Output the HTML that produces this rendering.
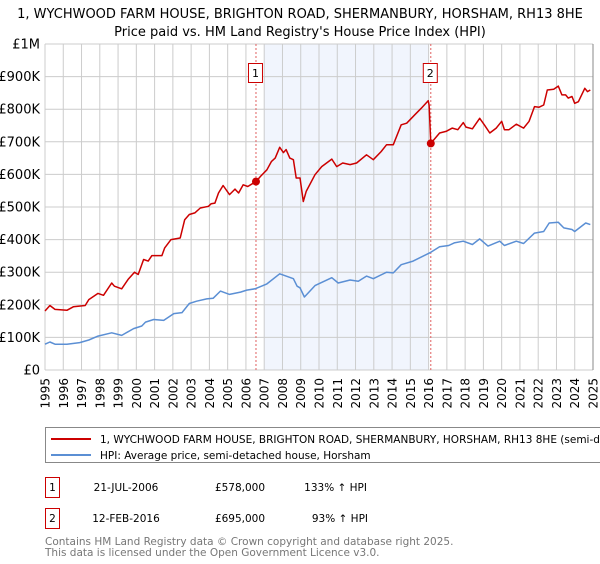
<!DOCTYPE html>
<html><head><meta charset="utf-8"><style>
body{margin:0;width:600px;height:560px;background:#fff;overflow:hidden;font-family:"DejaVu Sans","Liberation Sans",sans-serif}
svg text{font-family:"DejaVu Sans","Liberation Sans",sans-serif}
</style></head><body>
<svg id="chart" width="600" height="560" xmlns="http://www.w3.org/2000/svg">
<text x="300" y="18" text-anchor="middle" font-size="13">1, WYCHWOOD FARM HOUSE, BRIGHTON ROAD, SHERMANBURY, HORSHAM, RH13 8HE</text>
<text x="300" y="36" text-anchor="middle" font-size="13">Price paid vs. HM Land Registry's House Price Index (HPI)</text>
<g id="plot"></g>
<g>
<rect x="45.5" y="427.5" width="570" height="35" fill="#fff" stroke="#888"/>
<line x1="51" y1="439" x2="91" y2="439" stroke="#cc0000" stroke-width="2"/>
<text x="100" y="443" font-size="10.5">1, WYCHWOOD FARM HOUSE, BRIGHTON ROAD, SHERMANBURY, HORSHAM, RH13 8HE (semi-detached house)</text>
<line x1="51" y1="455" x2="91" y2="455" stroke="#5b8fd4" stroke-width="2"/>
<text x="100" y="459" font-size="10.5">HPI: Average price, semi-detached house, Horsham</text>
</g>
<g font-size="10.5">
<rect x="45.5" y="477.5" width="14" height="20" fill="#fff" stroke="#cc0000"/>
<text x="52.5" y="491" text-anchor="middle">1</text>
<text x="126" y="491" text-anchor="middle">21-JUL-2006</text>
<text x="240" y="491" text-anchor="middle">£578,000</text>
<text x="367" y="491" text-anchor="end">133% ↑ HPI</text>
</g>
<g font-size="10.5">
<rect x="45.5" y="508.5" width="14" height="20" fill="#fff" stroke="#cc0000"/>
<text x="52.5" y="522" text-anchor="middle">2</text>
<text x="126" y="522" text-anchor="middle">12-FEB-2016</text>
<text x="240" y="522" text-anchor="middle">£695,000</text>
<text x="368" y="522" text-anchor="end">93% ↑ HPI</text>
</g>
<text x="45" y="545" font-size="10.5" fill="#777">Contains HM Land Registry data © Crown copyright and database right 2025.</text>
<text x="45" y="556" font-size="10.5" fill="#777">This data is licensed under the Open Government Licence v3.0.</text>
</svg>
<script>
const years=[1995,1996,1997,1998,1999,2000,2001,2002,2003,2004,2005,2006,2007,2008,2009,2010,2011,2012,2013,2014,2015,2016,2017,2018,2019,2020,2021,2022,2023,2024,2025];
const yTicks=[0,100000,200000,300000,400000,500000,600000,700000,800000,900000,1000000];
const yTickLabels=["£0","£100K","£200K","£300K","£400K","£500K","£600K","£700K","£800K","£900K","£1M"];
const redT=[1995.0,1995.27,1995.55,1996.2,1996.55,1997.2,1997.4,1997.9,1998.2,1998.65,1998.8,1999.2,1999.55,1999.9,2000.1,2000.4,2000.65,2000.85,2001.4,2001.55,2001.9,2002.4,2002.65,2002.9,2003.2,2003.5,2003.95,2004.1,2004.3,2004.5,2004.75,2005.1,2005.4,2005.6,2005.85,2006.1,2006.4,2006.55,2006.8,2007.15,2007.4,2007.6,2007.85,2008.05,2008.2,2008.4,2008.6,2008.75,2008.96,2009.14,2009.3,2009.78,2010.15,2010.7,2010.97,2011.3,2011.7,2012.06,2012.6,2012.97,2013.4,2013.7,2014.07,2014.5,2014.8,2015.25,2015.6,2015.98,2016.03,2016.12,2016.6,2016.95,2017.3,2017.6,2017.9,2018.05,2018.4,2018.8,2019.05,2019.35,2019.7,2020.0,2020.15,2020.4,2020.8,2021.2,2021.5,2021.8,2022.05,2022.3,2022.5,2022.85,2023.1,2023.3,2023.5,2023.65,2023.85,2024.0,2024.2,2024.55,2024.7,2024.85];
const redV=[181,198,186,183,194,198,216,235,229,267,257,249,278,300,293,339,334,351,351,374,400,405,461,477,482,497,502,510,512,543,566,538,555,543,568,563,573,578,594,614,640,650,683,667,676,650,645,589,589,517,548,599,624,647,624,635,630,635,660,645,670,691,691,752,757,783,803,826,813,695,727,732,742,737,759,745,740,772,752,727,742,763,737,737,754,742,763,808,806,813,859,861,871,844,844,834,839,818,823,864,854,859];
const blueT=[1995,1995.27,1995.55,1996.2,1996.9,1997.4,1997.9,1998.65,1999.2,1999.85,2000.3,2000.5,2000.95,2001.5,2002.05,2002.5,2002.9,2003.3,2003.85,2004.2,2004.6,2005.1,2005.7,2006.05,2006.5,2007.15,2007.85,2008.2,2008.6,2008.8,2008.96,2009.2,2009.78,2010.7,2011.05,2011.7,2012.15,2012.6,2012.97,2013.7,2014.07,2014.5,2015.15,2016.12,2016.6,2017.1,2017.4,2017.9,2018.4,2018.8,2019.25,2019.9,2020.15,2020.8,2021.2,2021.8,2022.3,2022.6,2023.1,2023.4,2023.85,2024.0,2024.6,2024.85];
const blueV=[79,86,79,79,84,92,104,114,106,127,135,147,155,152,173,176,204,211,218,220,242,232,239,245,249,264,295,288,280,257,252,224,259,283,267,276,272,288,280,300,298,323,334,361,378,382,390,395,385,402,380,395,382,395,388,420,425,451,453,436,431,425,451,446];
const saleT=[2006.55,2016.12];
const saleV=[578,695];
const saleLabels=["1","2"];

const X0=45,X1=593,Y0=370,Y1=44;
const xs=t=>X0+(t-1995)/30*(X1-X0);
const ys=v=>Y0-v/1000000*(Y0-Y1);
const NS="http://www.w3.org/2000/svg";
const plot=document.getElementById('plot');
function mk(tag,attrs,parent){const e=document.createElementNS(NS,tag);for(const k in attrs)e.setAttribute(k,attrs[k]);(parent||plot).appendChild(e);return e;}

const shade=mk('rect',{x:xs(2007),y:Y1,width:xs(2016)-xs(2007),height:Y0-Y1,fill:'#eef3fd',opacity:0.8});


years.forEach(y=>{
  const l=mk('line',{x1:xs(y),x2:xs(y),y1:Y1,y2:Y0,stroke:'#cccccc','stroke-width':1});
  
  
  const t=mk('text',{x:0,y:0,'font-size':12,'text-anchor':'end',transform:`translate(${xs(y)+4.5},${Y0+8}) rotate(-90)`});
  t.textContent=y;
  
  
});
yTicks.forEach((v,i)=>{
  const l=mk('line',{x1:X0,x2:X1,y1:ys(v),y2:ys(v),stroke:'#cccccc','stroke-width':1});
  
  
  const t=mk('text',{x:40,y:ys(v)+4.5,'font-size':13,'text-anchor':'end'});
  t.textContent=yTickLabels[i];
  
  
});
const rb=mk('line',{x1:X1,x2:X1,y1:Y1,y2:Y0,stroke:'#888','stroke-width':1});


saleT.forEach((t,i)=>{
  const l=mk('line',{x1:xs(t),x2:xs(t),y1:Y1,y2:Y0,stroke:'#e06060','stroke-width':1,'stroke-dasharray':'2,2'});
  
  
});
function path(T,V,color,name){
  const d=T.map((t,i)=>(i?'L':'M')+xs(t).toFixed(1)+','+ys(V[i]*1000).toFixed(1)).join('');
  const p=mk('path',{d:d,fill:'none',stroke:color,'stroke-width':1.5,'stroke-linejoin':'round'});
  
  
}
path(blueT,blueV,'#5b8fd4','hpi-line');
path(redT,redV,'#cc0000','price-paid-line');
saleT.forEach((t,i)=>{
  const c=mk('circle',{cx:xs(t),cy:ys(saleV[i]*1000),r:4,fill:'#cc0000'});
  
  
  const g=mk('g',{});
  
  
  mk('rect',{x:xs(t)-7.5,y:63.5,width:14,height:19,fill:'#fff',stroke:'#cc0000'},g);
  const tx=mk('text',{x:xs(t)-0.5,y:77,'font-size':11,'text-anchor':'middle'},g);
  tx.textContent=saleLabels[i];
});
</script>
</body></html>
